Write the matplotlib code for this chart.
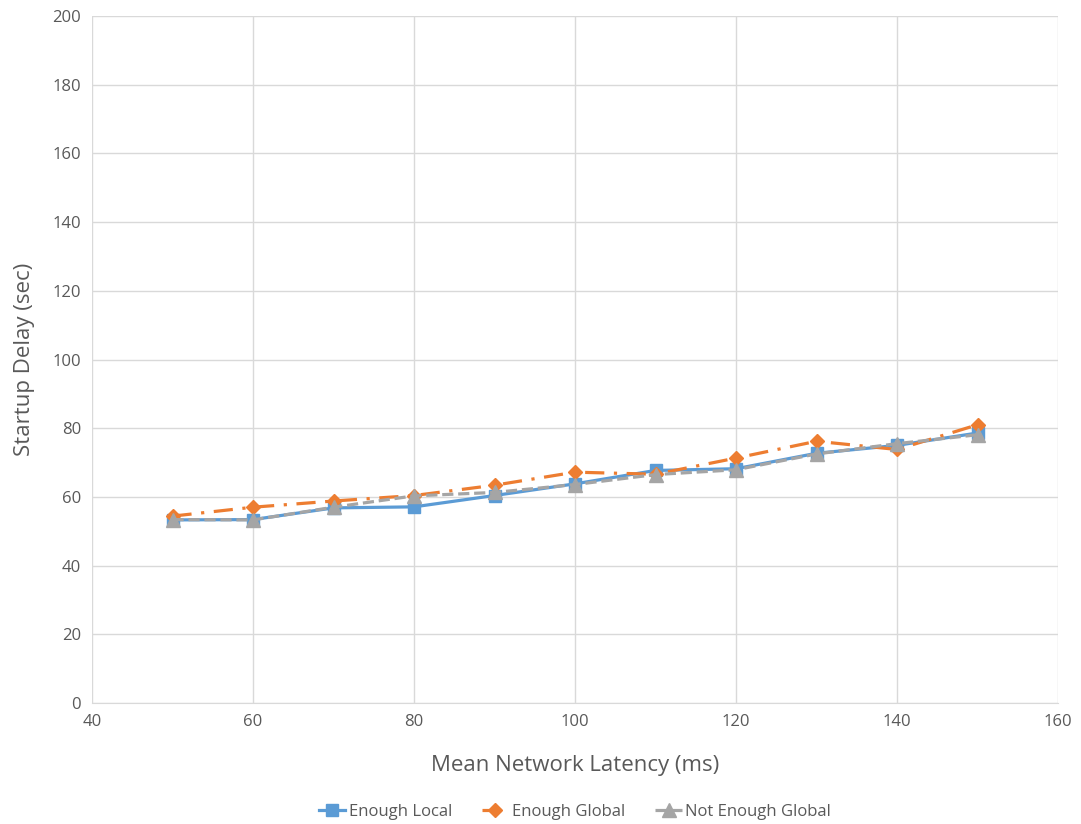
import matplotlib.pyplot as plt

latency = [50, 60, 70, 80, 90, 100, 110, 120, 130, 140, 150]
enough_local = [53.3, 53.4, 56.8, 57.1, 60.4, 63.8, 67.7, 68.2, 72.7, 75.0, 78.6]
enough_global = [54.4, 57.0, 58.8, 60.4, 63.4, 67.2, 66.6, 71.3, 76.2, 73.8, 81.0]
not_enough_global = [53.4, 53.3, 57.0, 60.3, 61.3, 63.6, 66.5, 67.9, 72.5, 75.5, 78.1]

plt.rcParams['font.family'] = ['Open Sans', 'DejaVu Sans']

fig = plt.figure(figsize=(10.81, 8.24), dpi=100)
ax = fig.add_axes([92/1081, 1 - 703/824, (1058-92)/1081, (703-16)/824])

ax.plot(latency, enough_local, color='#5b9bd5', lw=2.3, marker='s', ms=9,
        label='Enough Local', zorder=3)
ax.plot(latency, enough_global, color='#ed7d31', lw=2.3, marker='D', ms=7.5,
        dashes=(6, 3, 1, 3), label='Enough Global', zorder=4)
ax.plot(latency, not_enough_global, color='#a5a5a5', lw=2.3, marker='^', ms=10,
        dashes=(3.5, 1.5), label='Not Enough Global', zorder=5)

ax.set_xlim(40, 160)
ax.set_ylim(0, 200)
ax.set_xticks(range(40, 161, 20))
ax.set_yticks(range(0, 201, 20))
ax.grid(True, color='#d9d9d9', lw=1)
ax.set_axisbelow(True)
for s in ['top', 'right', 'left']:
    ax.spines[s].set_visible(False)
ax.spines['bottom'].set_color('#d9d9d9')
ax.tick_params(length=0, labelsize=12, colors='#595959', pad=8)

ax.set_xlabel('Mean Network Latency (ms)', fontsize=16, color='#595959', labelpad=18)
ax.set_ylabel('Startup Delay (sec)', fontsize=16, color='#595959', labelpad=12)

leg = ax.legend(loc='upper center', bbox_to_anchor=(0.5, -0.125), ncol=3,
                frameon=False, fontsize=12, handlelength=1.6, handletextpad=0.2,
                columnspacing=1.8)
for t in leg.get_texts():
    t.set_color('#595959')

fig.savefig('out.png', dpi=100)
